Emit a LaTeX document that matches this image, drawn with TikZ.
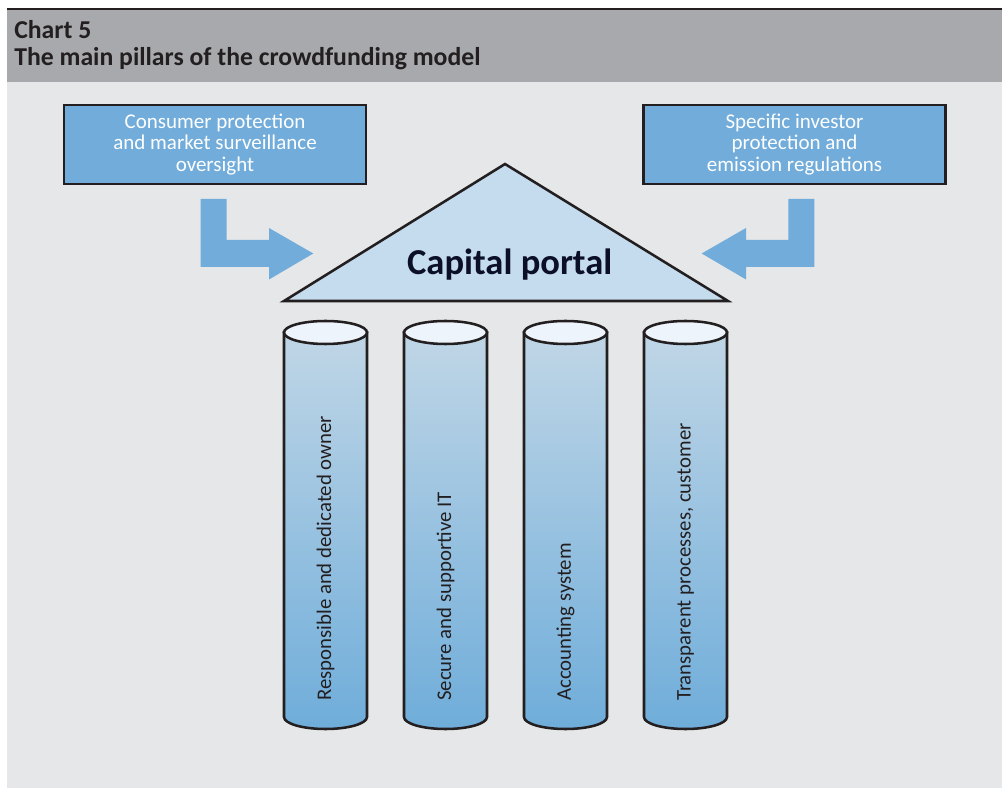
\documentclass[tikz,border=0pt]{standalone}
\usepackage{fontspec}
\setmainfont{Carlito}
\usetikzlibrary{positioning}

\definecolor{headgray}{HTML}{A7A9AC}
\definecolor{bodygray}{HTML}{E6E7E8}
\definecolor{inkline}{HTML}{231F20}
\definecolor{boxblue}{HTML}{71ACDA}
\definecolor{roofblue}{HTML}{C5DCEF}
\definecolor{pillartop}{HTML}{EEF4FB}
\definecolor{pillarhigh}{HTML}{C0D6E6}
\definecolor{pillarlow}{HTML}{6FADDA}
\definecolor{portalink}{HTML}{0B1026}

\tikzset{
  infobox/.style={draw=inkline,line width=1.9pt,fill=boxblue,text=white,
    minimum width=226.5pt,minimum height=59.25pt,align=center,inner sep=0pt,
    font=\fontsize{15.75}{16}\selectfont},
  pillartext/.style={rotate=90,anchor=west,inner sep=0pt,text=inkline,
    font=\fontsize{15.6}{16}\selectfont},
  blockarrow/.style={fill=boxblue},
  titletext/.style={anchor=base west,inner sep=0pt,text=inkline,
    font=\fontsize{19.3}{21}\bfseries}
}

\begin{document}
\begin{tikzpicture}[x=0.75pt,y=0.75pt]
\useasboundingbox (0,0) rectangle (1002,789);
% frame
\fill[bodygray] (7,1) rectangle (1002,707);
\fill[headgray] (7,707) rectangle (1002,780);
\draw[inkline,line width=1.9pt] (7,780) -- (1002,780);
\node[titletext] (chart) at (14,750.5) {Chart 5};
\node[titletext] (title) at (14,723) {The main pillars of the crowdfunding model};

% boxes on top
\node[infobox] (consumer) at (215,644.5) {Consumer protection\\and market surveillance\\oversight};
\node[infobox] (investor) at (794.5,644.5) {Specific investor\\protection and\\emission regulations};

% bent arrows
\fill[blockarrow] (200.7,590) -- (226.7,590) -- (226.7,549) -- (269,549) -- (269,561)
  -- (313.3,535.5) -- (269,509.5) -- (269,522) -- (200.7,522) -- cycle;
\fill[blockarrow] (814.3,590) -- (788.3,590) -- (788.3,549) -- (746,549) -- (746,561)
  -- (701.7,535.5) -- (746,509.5) -- (746,522) -- (814.3,522) -- cycle;

% roof
\draw[inkline,line width=1.9pt,fill=roofblue,line join=miter] (284,488) -- (505,625) -- (728,488) -- cycle;
\node[inner sep=0pt,anchor=base,text=portalink,font=\fontsize{27.4}{30}\bfseries] (portal) at (509.7,514) {Capital portal};

% pillars
\foreach \cx/\name/\txt in {325.5/owner/Responsible and dedicated owner,
                            445.5/itsys/Secure and supportive IT,
                            565.5/account/Accounting system,
                            685.5/process/{Transparent processes, customer}}{
  \draw[inkline,line width=1.9pt,top color=pillarhigh,bottom color=pillarlow]
    (\cx-41.5,456.5) -- (\cx-41.5,72) arc[start angle=180,end angle=360,x radius=41.5,y radius=12]
    -- (\cx+41.5,456.5) -- cycle;
  \draw[inkline,line width=1.9pt,fill=pillartop] (\cx,456.5) ellipse[x radius=41.5,y radius=11.5];
  \node[pillartext] (\name) at (\cx,88) {\txt};
}
\end{tikzpicture}
\end{document}
